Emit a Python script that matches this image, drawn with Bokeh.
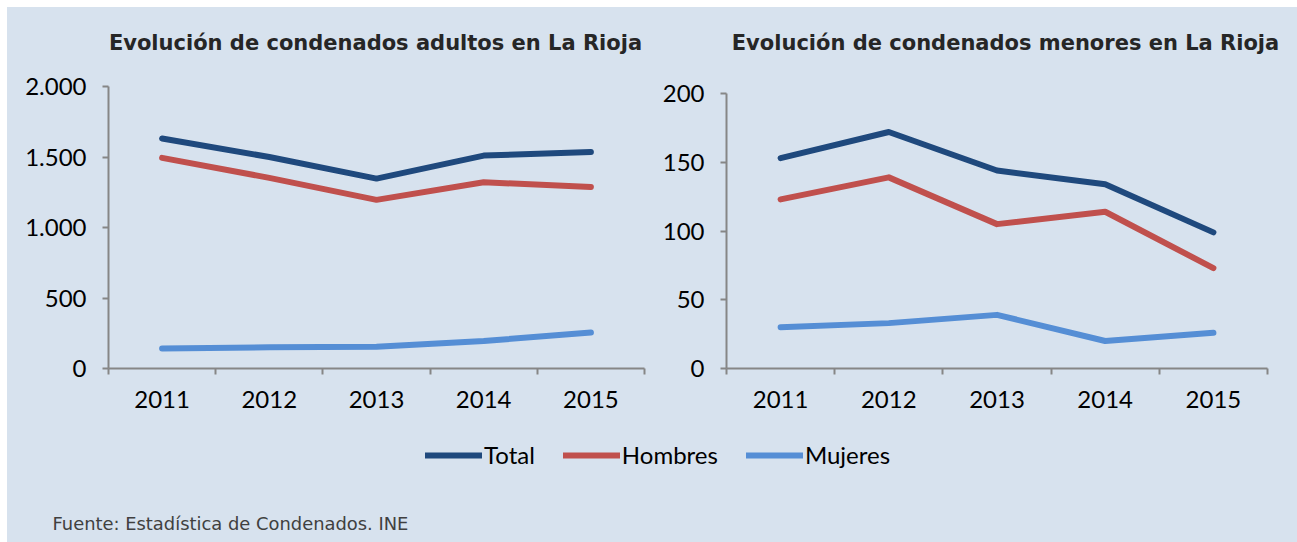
from bokeh.plotting import figure
from bokeh.models import Range1d, FixedTicker, Legend, LegendItem, Label
from bokeh.layouts import column, row
from bokeh.embed import file_html
from bokeh.resources import INLINE

# ---- data ----
years = ["2011", "2012", "2013", "2014", "2015"]

adult_total = [1631, 1500, 1347, 1510, 1536]
adult_men = [1494, 1352, 1196, 1321, 1288]
adult_women = [142, 150, 154, 195, 255]
adult_ticks = [0, 500, 1000, 1500, 2000]
adult_tick_labels = ["0", "500", "1.000", "1.500", "2.000"]

minor_total = [153, 172, 144, 134, 99]
minor_men = [123, 139, 105, 114, 73]
minor_women = [30, 33, 39, 20, 26]
minor_ticks = [0, 50, 100, 150, 200]
minor_tick_labels = ["0", "50", "100", "150", "200"]

series_names = ["Total", "Hombres", "Mujeres"]
series_colors = ["#1F497D", "#C0504D", "#558ED5"]

title_adults = "Evolución de condenados adultos en La Rioja"
title_minors = "Evolución de condenados menores en La Rioja"
source_text = "Fuente: Estadística de Condenados. INE"

# ---- style ----
BG = "#D7E2EE"
AXIS = "#868686"
TICK_FONT = "Lato"
FIG_H = 420
FRAME_BOTTOM = 361          # frame spans the figure from top down to here


def make_chart(title, series, yticks, ylabels, width, left, axis_px,
               ytop_px, title_x):
    """axis_px: pixel length of the x axis; ytop_px: pixels between the top
    of the figure and the highest y tick."""
    n = len(years)
    frame_w = width - left
    x_end = n * frame_w / axis_px
    span = yticks[-1] - yticks[0]
    y_end = yticks[-1] + span * ytop_px / (FRAME_BOTTOM - ytop_px)
    p = figure(width=width, height=FIG_H, output_backend="svg",
               toolbar_location=None, title=None,
               x_range=Range1d(0, x_end), y_range=Range1d(yticks[0], y_end),
               min_border_left=left, min_border_right=0,
               min_border_top=0, min_border_bottom=FIG_H - FRAME_BOTTOM,
               background_fill_color=BG, border_fill_color=BG,
               outline_line_color=None)
    p.grid.visible = False

    centers = [i + 0.5 for i in range(n)]
    bounds = list(range(n + 1))
    for vals, color in zip(series, series_colors):
        p.line(centers, vals, line_color=color, line_width=6,
               line_cap="round", line_join="round")

    xa = p.xaxis[0]
    xa.ticker = FixedTicker(ticks=centers, minor_ticks=bounds)
    xa.major_label_overrides = {c: y for c, y in zip(centers, years)}
    xa.bounds = (0, n)
    xa.axis_line_color = AXIS
    xa.axis_line_width = 2
    xa.major_tick_out = 0
    xa.major_tick_in = 0
    xa.minor_tick_out = 6
    xa.minor_tick_in = 0
    xa.minor_tick_line_color = AXIS
    xa.minor_tick_line_width = 2
    xa.major_label_standoff = 16
    xa.major_label_text_font = TICK_FONT
    xa.major_label_text_font_size = "24px"
    xa.major_label_text_color = "#000000"

    ya = p.yaxis[0]
    ya.ticker = FixedTicker(ticks=yticks, minor_ticks=[])
    ya.major_label_overrides = {t: l for t, l in zip(yticks, ylabels)}
    ya.bounds = (yticks[0], yticks[-1])
    ya.axis_line_color = AXIS
    ya.axis_line_width = 2
    ya.major_tick_out = 6
    ya.major_tick_in = 0
    ya.major_tick_line_color = AXIS
    ya.major_tick_line_width = 2
    ya.major_label_standoff = 16
    ya.major_label_text_font = TICK_FONT
    ya.major_label_text_font_size = "24px"
    ya.major_label_text_color = "#000000"

    p.add_layout(Label(x=title_x, y=FRAME_BOTTOM - 35, x_units="screen",
                       y_units="screen", text=title, text_align="center",
                       text_baseline="alphabetic", text_font="DejaVu Sans",
                       text_font_style="bold", text_font_size="21px",
                       text_color="#262626"))
    return p


p1 = make_chart(title_adults, [adult_total, adult_men, adult_women],
                adult_ticks, adult_tick_labels,
                width=645, left=101, axis_px=536, ytop_px=79, title_x=267)
p2 = make_chart(title_minors, [minor_total, minor_men, minor_women],
                minor_ticks, minor_tick_labels,
                width=645, left=74, axis_px=541, ytop_px=86, title_x=279)

p3 = figure(width=1290, height=115, output_backend="svg",
            toolbar_location=None, x_range=Range1d(0, 1), y_range=Range1d(0, 1),
            x_axis_type=None, y_axis_type=None, min_border=0,
            background_fill_color=BG, border_fill_color=BG,
            outline_line_color=None)
p3.grid.visible = False

items = []
nan = float("nan")
for name, color in zip(series_names, series_colors):
    r = p3.line(x=[nan, nan], y=[nan, nan], line_color=color, line_width=6,
                line_cap="round")
    items.append(LegendItem(label=name, renderers=[r]))

legend = Legend(items=items, location=(418, 73), orientation="horizontal",
                glyph_width=57, glyph_height=24, label_height=24,
                label_standoff=2, spacing=28, padding=0, margin=0,
                border_line_color=None, background_fill_alpha=0,
                label_text_font=TICK_FONT, label_text_font_size="24px",
                label_text_color="#000000")
p3.add_layout(legend)

p3.add_layout(Label(x=45, y=19, x_units="screen", y_units="screen",
                    text=source_text, text_font="DejaVu Sans",
                    text_font_size="17.9px", text_color="#404040",
                    text_baseline="middle"))

layout = column(row(p1, p2), p3, margin=(7, 0, 0, 7),
                styles={"background-color": BG})

open("out.html", "w").write(file_html(layout, INLINE))
